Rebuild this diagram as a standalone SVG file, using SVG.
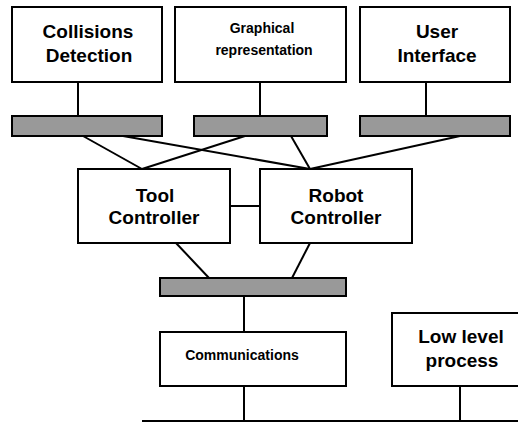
<svg xmlns="http://www.w3.org/2000/svg" width="518" height="422" viewBox="0 0 518 422">
<style>
.box{fill:#fff;stroke:#000;stroke-width:2}
.bar{fill:#999;stroke:#000;stroke-width:2}
.c line{stroke:#000;stroke-width:2}
text{font-family:"Liberation Sans",Arial,sans-serif;font-weight:bold;text-anchor:middle;fill:#000}
.big{font-size:19px}
.sm{font-size:14px}
</style>
<rect width="518" height="422" fill="#fff"/>
<g class="c" id="connectors">
<line x1="78" y1="82" x2="78" y2="116"/>
<line x1="260" y1="82" x2="260" y2="116"/>
<line x1="426" y1="82" x2="426" y2="116"/>
<line x1="83" y1="136" x2="142" y2="169"/>
<line x1="123" y1="136" x2="310" y2="169"/>
<line x1="245" y1="136" x2="142" y2="169"/>
<line x1="291" y1="136" x2="310" y2="169"/>
<line x1="460" y1="136" x2="310" y2="169"/>
<line x1="228" y1="206" x2="260" y2="206"/>
<line x1="176" y1="243" x2="209" y2="278"/>
<line x1="310" y1="243" x2="292" y2="278"/>
<line x1="244" y1="296" x2="244" y2="332"/>
<line x1="244" y1="386" x2="244" y2="421"/>
<line x1="460" y1="386" x2="460" y2="421"/>
<line x1="142" y1="421" x2="518" y2="421"/>
</g>
<g id="collisions"><rect class="box" x="12" y="7" width="150" height="75"/><text class="big" x="88" y="38">Collisions</text><text class="big" x="89" y="62">Detection</text></g>
<g id="graphical"><rect class="box" x="175" y="7" width="171" height="75"/><text class="sm" x="262" y="33">Graphical</text><text class="sm" x="264" y="55">representation</text></g>
<g id="user"><rect class="box" x="360" y="7" width="150" height="75"/><text class="big" x="437" y="38">User</text><text class="big" x="437" y="62">Interface</text></g>
<g id="bar1"><rect class="bar" x="12" y="116" width="150" height="20"/></g>
<g id="bar2"><rect class="bar" x="194" y="116" width="133" height="20"/></g>
<g id="bar3"><rect class="bar" x="360" y="116" width="150" height="20"/></g>
<g id="tool"><rect class="box" x="78" y="169" width="152" height="74"/><text class="big" x="155" y="202">Tool</text><text class="big" x="154" y="224">Controller</text></g>
<g id="robot"><rect class="box" x="260" y="169" width="152" height="74"/><text class="big" x="336" y="202">Robot</text><text class="big" x="336" y="224">Controller</text></g>
<g id="bar4"><rect class="bar" x="160" y="278" width="186" height="18"/></g>
<g id="comm"><rect class="box" x="160" y="332" width="186" height="54"/><text class="sm" x="242" y="360">Communications</text></g>
<g id="lowlevel"><rect class="box" x="392" y="313" width="140" height="73"/><text class="big" x="461" y="343">Low level</text><text class="big" x="462" y="367">process</text></g>
</svg>
